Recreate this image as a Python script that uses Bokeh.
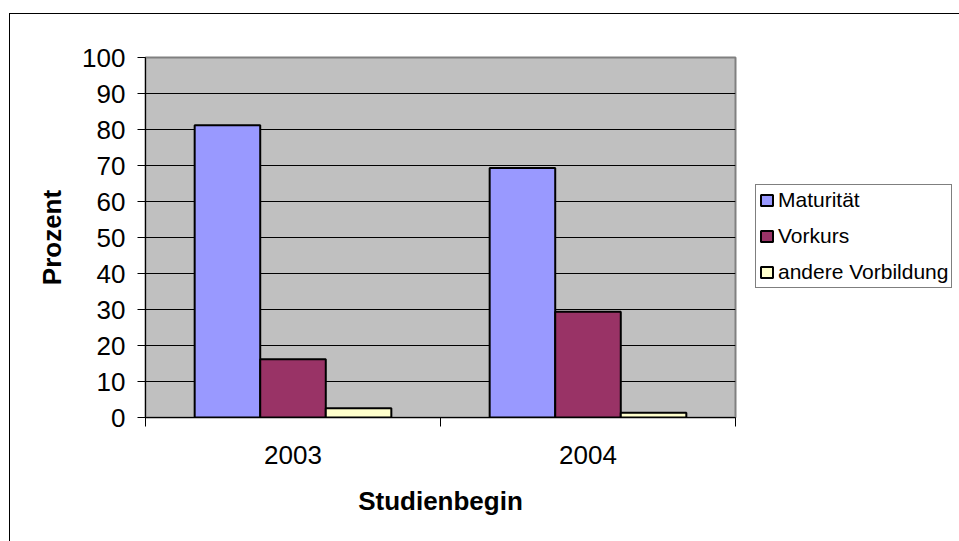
from bokeh.plotting import figure
from bokeh.models import Range1d, FixedTicker, Legend, LegendItem, ColumnDataSource
from bokeh.embed import file_html
from bokeh.resources import INLINE

# ---- data ----
years = ["2003", "2004"]
series_names = ["Maturität", "Vorkurs", "andere Vorbildung"]
maturitaet = [81.2, 69.3]
vorkurs = [16.2, 29.4]
andere = [2.6, 1.3]
series_values = [maturitaet, vorkurs, andere]
series_colors = ["#9999FF", "#993366", "#FFFFCC"]
y_ticks = list(range(0, 101, 10))

FONT = "Liberation Sans"

p = figure(frame_width=590, frame_height=360, output_backend="svg", toolbar_location=None,
           x_range=Range1d(0, len(years)), y_range=Range1d(0, 100),
           min_border_left=135, min_border_right=224, min_border_top=43,
           min_border_bottom=124)
p.styles = {"margin-left": "9px", "margin-top": "13px",
            "border-left": "1px solid black", "border-top": "1px solid black"}

p.background_fill_color = "#C0C0C0"
p.border_fill_color = "white"
p.outline_line_color = "#808080"
p.outline_line_width = 2

bar_w = 1 / 4.5
items = []
for k, (name, vals, col) in enumerate(zip(series_names, series_values, series_colors)):
    xs = [i + 0.5 + (k - 1) * bar_w for i in range(len(years))]
    src = ColumnDataSource(dict(x=xs, top=vals))
    r = p.vbar(x="x", top="top", bottom=0, width=bar_w, source=src,
               fill_color=col, line_color="black", line_width=2)
    items.append(LegendItem(label=name, renderers=[r]))

# grid
p.xgrid.grid_line_color = None
p.ygrid.grid_line_color = "black"
p.ygrid.grid_line_width = 1
p.ygrid.ticker = FixedTicker(ticks=y_ticks[1:-1])

# y axis
ya = p.yaxis[0]
ya.ticker = FixedTicker(ticks=y_ticks)
ya.axis_label = "Prozent"
ya.axis_label_text_font = FONT
ya.axis_label_text_font_style = "bold"
ya.axis_label_text_font_size = "26px"
ya.axis_label_text_color = "black"
ya.axis_label_standoff = 12
ya.major_label_text_font = FONT
ya.major_label_text_font_size = "26px"
ya.major_label_text_color = "black"
ya.major_label_standoff = 12
ya.major_tick_out = 8
ya.major_tick_in = 0
ya.major_tick_line_color = "black"
ya.minor_tick_line_color = None
ya.axis_line_color = "black"

# x axis
xa = p.xaxis[0]
xa.ticker = FixedTicker(ticks=[i + 0.5 for i in range(len(years))],
                        minor_ticks=list(range(len(years) + 1)))
xa.major_label_overrides = {i + 0.5: y for i, y in enumerate(years)}
xa.axis_label = "Studienbegin"
xa.axis_label_text_font = FONT
xa.axis_label_text_font_style = "bold"
xa.axis_label_text_font_size = "26px"
xa.axis_label_text_color = "black"
xa.axis_label_standoff = 19
xa.major_label_text_font = FONT
xa.major_label_text_font_size = "26px"
xa.major_label_text_color = "black"
xa.major_label_standoff = 19
xa.major_tick_line_color = None
xa.major_tick_out = 9
xa.minor_tick_out = 9
xa.minor_tick_in = 0
xa.minor_tick_line_color = "black"
xa.axis_line_color = "black"

# legend (in right panel, absolute position inside panel)
legend = Legend(items=items, location=(20, 129))
legend.label_text_font = FONT
legend.label_text_font_size = "21px"
legend.label_text_color = "black"
legend.label_height = 24
legend.glyph_width = 15
legend.glyph_height = 14
legend.label_standoff = 4
legend.spacing = 12
legend.padding = 3
legend.margin = 0
legend.border_line_color = "black"
legend.border_line_width = 1
legend.background_fill_color = "white"
p.add_layout(legend, "right")

open("out.html", "w").write(file_html(p, INLINE))
